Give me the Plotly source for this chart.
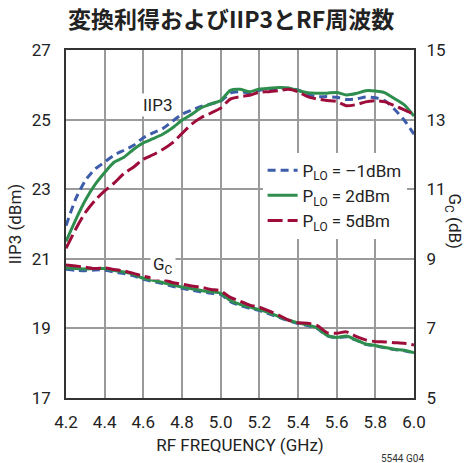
import plotly.graph_objects as go

# RF frequency grid (GHz)
freq = [4.20, 4.25, 4.30, 4.35, 4.40, 4.45, 4.50, 4.55, 4.60, 4.65, 4.70, 4.75,
        4.80, 4.85, 4.90, 4.95, 5.00, 5.05, 5.10, 5.15, 5.20, 5.25, 5.30, 5.35,
        5.40, 5.45, 5.50, 5.55, 5.60, 5.65, 5.70, 5.75, 5.80, 5.85, 5.90, 5.95, 6.00]

# IIP3 (dBm), left axis
iip3_m1 = [21.95, 22.72, 23.25, 23.58, 23.78, 23.98, 24.12, 24.26, 24.48, 24.62, 24.74, 24.95,
           25.15, 25.27, 25.38, 25.45, 25.53, 25.76, 25.80, 25.77, 25.84, 25.87, 25.90, 25.90,
           25.85, 25.72, 25.66, 25.66, 25.64, 25.58, 25.59, 25.65, 25.63, 25.54, 25.29, 24.98, 24.58]
iip3_p2 = [21.50, 22.12, 22.68, 23.13, 23.48, 23.78, 23.92, 24.15, 24.33, 24.45, 24.58, 24.76,
           24.98, 25.15, 25.34, 25.45, 25.55, 25.84, 25.87, 25.80, 25.88, 25.90, 25.92, 25.91,
           25.84, 25.77, 25.76, 25.76, 25.78, 25.71, 25.75, 25.83, 25.82, 25.77, 25.60, 25.42, 25.10]
iip3_p5 = [21.30, 21.85, 22.33, 22.68, 22.95, 23.18, 23.45, 23.64, 23.86, 23.99, 24.14, 24.33,
           24.60, 24.87, 25.06, 25.19, 25.33, 25.59, 25.66, 25.70, 25.79, 25.80, 25.83, 25.87,
           25.80, 25.66, 25.59, 25.55, 25.52, 25.40, 25.43, 25.51, 25.54, 25.51, 25.40, 25.28, 25.15]

# Conversion gain Gc (dB), right axis
gc_m1 = [8.70, 8.67, 8.66, 8.68, 8.68, 8.62, 8.58, 8.51, 8.41, 8.35, 8.29, 8.21,
         8.15, 8.10, 8.05, 8.01, 7.98, 7.77, 7.66, 7.58, 7.51, 7.42, 7.32, 7.22,
         7.14, 7.08, 6.99, 6.79, 6.73, 6.76, 6.66, 6.54, 6.50, 6.44, 6.39, 6.36, 6.29]
gc_p2 = [8.74, 8.72, 8.71, 8.72, 8.72, 8.66, 8.62, 8.55, 8.44, 8.38, 8.32, 8.25,
         8.19, 8.14, 8.09, 8.05, 8.01, 7.80, 7.69, 7.61, 7.54, 7.45, 7.34, 7.24,
         7.16, 7.10, 7.01, 6.80, 6.74, 6.78, 6.67, 6.55, 6.51, 6.45, 6.40, 6.37, 6.30]
gc_p5 = [8.82, 8.79, 8.76, 8.72, 8.74, 8.69, 8.65, 8.58, 8.50, 8.45, 8.41, 8.32,
         8.27, 8.22, 8.18, 8.12, 8.08, 7.89, 7.78, 7.67, 7.61, 7.50, 7.38, 7.24,
         7.16, 7.15, 7.08, 6.88, 6.86, 6.90, 6.77, 6.67, 6.62, 6.61, 6.59, 6.57, 6.52]

names = ["P<sub>LO</sub> = \u20131dBm", "P<sub>LO</sub> = 2dBm", "P<sub>LO</sub> = 5dBm"]
colors = ["#3D5DAA", "#2E8E4E", "#9E0D3A"]
dashes = ["8px,5px", "solid", "15px,5px"]

FONT = "Roboto, Liberation Sans, sans-serif"

fig = go.Figure()

for name, col, dash, ys in zip(names, colors, dashes, [iip3_m1, iip3_p2, iip3_p5]):
    fig.add_trace(go.Scatter(
        x=freq, y=ys, name=name, mode="lines",
        line=dict(color=col, width=3, dash=dash, shape="spline", smoothing=0.6),
        yaxis="y",
    ))

for name, col, dash, ys in zip(names, colors, dashes, [gc_m1, gc_p2, gc_p5]):
    fig.add_trace(go.Scatter(
        x=freq, y=ys, name=name, mode="lines", showlegend=False,
        line=dict(color=col, width=3, dash=dash, shape="spline", smoothing=0.6),
        yaxis="y2",
    ))

axis_font = dict(family=FONT, size=17, color="#222")

fig.update_layout(
    width=466, height=463,
    margin=dict(l=66, r=52, t=50, b=65),
    paper_bgcolor="white", plot_bgcolor="white",
    font=dict(family=FONT, size=17, color="#222"),
    showlegend=True,
    legend=dict(
        x=0.565, y=0.705, xanchor="left", yanchor="top",
        bgcolor="white", borderwidth=0,
        font=dict(family=FONT, size=17, color="#222"),
        tracegroupgap=0, itemwidth=30,
    ),
    xaxis=dict(
        range=[4.2, 6.0], dtick=0.2, tick0=4.2, tickformat=".1f",
        showgrid=True, gridcolor="#9a9a9a", gridwidth=1.5,
        showline=True, linecolor="#333", linewidth=1.5, mirror=True,
        ticks="outside", ticklen=8, tickcolor="rgba(0,0,0,0)",
        tickfont=axis_font, zeroline=False,
        title=dict(text="RF FREQUENCY (GHz)", font=axis_font, standoff=8),
    ),
    yaxis=dict(
        range=[17, 27], dtick=2, tick0=17,
        showgrid=True, gridcolor="#9a9a9a", gridwidth=1.5,
        showline=True, linecolor="#333", linewidth=1.5, mirror=True,
        ticks="outside", ticklen=10, tickcolor="rgba(0,0,0,0)",
        tickfont=axis_font, zeroline=False,
        title=dict(text="IIP3 (dBm)", font=axis_font, standoff=6),
    ),
    yaxis2=dict(
        range=[5, 15], dtick=2, tick0=5, overlaying="y", side="right",
        showgrid=False, showline=False, zeroline=False,
        ticks="outside", ticklen=8, tickcolor="rgba(0,0,0,0)",
        tickfont=axis_font,
    ),
)

# chart title
fig.add_annotation(
    text="<b>変換利得およびIIP3とRF周波数</b>", xref="paper", yref="paper",
    x=0.475, y=1.0, yshift=32, xanchor="center", yanchor="middle", showarrow=False,
    font=dict(family="Noto Sans CJK JP, sans-serif", size=23, color="#222"),
)

# right axis title, reading downward
fig.add_annotation(
    text="G<sub>C</sub> (dB)", xref="paper", yref="paper",
    x=1.0, xshift=39, y=0.51, xanchor="center", yanchor="middle",
    textangle=90, showarrow=False, font=axis_font,
)

# curve labels
fig.add_annotation(
    text="IIP3", x=4.676, y=25.42, xref="x", yref="y", showarrow=False,
    font=axis_font, bgcolor="white",
)
fig.add_annotation(
    text="G<sub>C</sub>", x=4.7, y=20.8, xref="x", yref="y", showarrow=False,
    font=axis_font, bgcolor="white", borderpad=2,
)

# figure code
fig.add_annotation(
    text="5544 G04", xref="paper", yref="paper", x=1.0, y=0.0, yshift=-60, xshift=12,
    xanchor="right", yanchor="middle", showarrow=False,
    font=dict(family=FONT, size=10, color="#333"),
)

fig.write_html("out.html")
